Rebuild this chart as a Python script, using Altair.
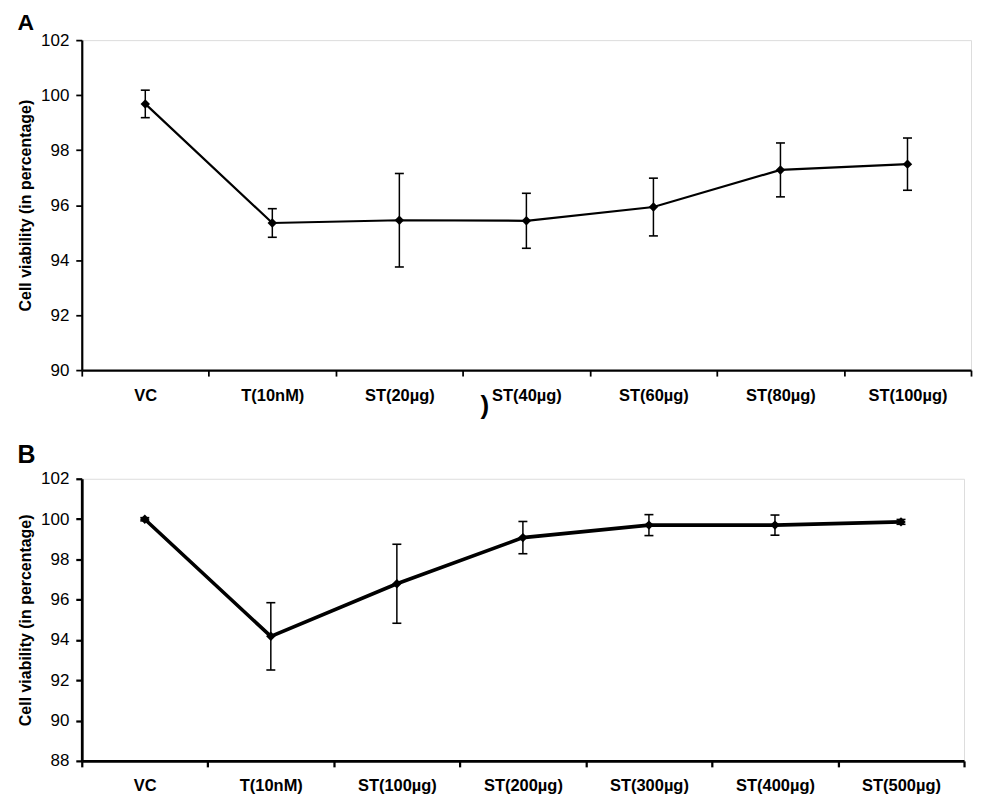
import altair as alt
import pandas as pd

# Panel A data
cats_a = ["VC", "T(10nM)", "ST(20µg)", "ST(40µg)", "ST(60µg)", "ST(80µg)", "ST(100µg)"]
mean_a = [99.68, 95.35, 95.45, 95.43, 95.93, 97.28, 97.49]
err_a = [0.50, 0.52, 1.70, 1.00, 1.05, 0.98, 0.95]

# Panel B data
cats_b = ["VC", "T(10nM)", "ST(100µg)", "ST(200µg)", "ST(300µg)", "ST(400µg)", "ST(500µg)"]
mean_b = [99.99, 94.18, 96.79, 99.08, 99.70, 99.70, 99.86]
err_b = [0.08, 1.67, 1.96, 0.80, 0.52, 0.50, 0.12]

tick_a = [90, 92, 94, 96, 98, 100, 102]
tick_b = [88, 90, 92, 94, 96, 98, 100, 102]

FONT = "Liberation Sans, Arial, sans-serif"


def panel(cats, means, errs, ticks, width, height, label, line_w, axis_w, title_offset,
          title_size, stray=None):
    df = pd.DataFrame({
        "cat": cats,
        "mean": means,
        "lo": [m - e for m, e in zip(means, errs)],
        "hi": [m + e for m, e in zip(means, errs)],
    })
    x_axis = alt.Axis(title=None, labelAngle=0, tickBand="extent", labelFontWeight="bold",
                      labelFontSize=16.5, labelPadding=11, tickSize=6, domainWidth=axis_w,
                      tickWidth=axis_w * 0.8, labelColor="black", domainColor="black",
                      tickColor="black", labelFont=FONT)
    xscale = alt.Scale(type="band", paddingInner=0, paddingOuter=0)
    y_axis = alt.Axis(values=ticks, title="Cell viability (in percentage)",
                      titleFontWeight="bold", titleFontSize=16, titleFont=FONT, titleColor="black",
                      labelFontSize=17, labelFont=FONT, labelColor="black", grid=False, tickSize=6,
                      domainWidth=axis_w, tickWidth=axis_w * 0.8, domainColor="black",
                      tickColor="black", titlePadding=7, labelPadding=7, labelOverlap=False)
    yscale = alt.Scale(domain=[ticks[0], ticks[-1]], nice=False, zero=False)

    def X():
        return alt.X("cat:N", sort=cats, scale=xscale, axis=x_axis)

    def Y(f):
        return alt.Y(f + ":Q", scale=yscale, axis=y_axis)

    base = alt.Chart(df)
    line = base.mark_line(color="black", strokeWidth=line_w).encode(x=X(), y=Y("mean"))
    rule = base.mark_rule(color="black", strokeWidth=1.5).encode(x=X(), y=Y("lo"), y2="hi:Q")
    cap_lo = base.mark_tick(color="black", size=9, thickness=1.6, opacity=1).encode(x=X(), y=Y("lo"))
    cap_hi = base.mark_tick(color="black", size=9, thickness=1.6, opacity=1).encode(x=X(), y=Y("hi"))
    pts = base.mark_point(shape="diamond", filled=True, size=90, color="black", opacity=1).encode(
        x=X(), y=Y("mean"))
    layers = [line, rule, cap_lo, cap_hi, pts]
    if stray is not None:
        txt = alt.Chart(pd.DataFrame({"t": [stray]})).mark_text(
            fontSize=26, font=FONT, fontWeight="bold", color="black", align="left",
            baseline="middle").encode(text="t:N", x=alt.value(400), y=alt.value(367))
        layers.append(txt)
    return alt.layer(*layers).properties(
        width=width, height=height,
        title=alt.TitleParams(label, anchor="start", frame="bounds", fontSize=title_size,
                              font=FONT, fontWeight="bold", color="black", offset=title_offset),
    )


chart_a = panel(cats_a, mean_a, err_a, tick_a, 892, 331, "A", 2.2, 2.2, -4, 23, stray=")")
chart_b = panel(cats_b, mean_b, err_b, tick_b, 885, 283, "B", 3.6, 2.8, 2, 25)

chart = alt.vconcat(chart_a, chart_b, spacing=22).properties(
    padding={"left": 9, "top": 2, "right": 0, "bottom": 0}
).configure_view(stroke=None).configure(background="white")

chart.save("out.html", embed_options={"renderer": "svg", "actions": False})
